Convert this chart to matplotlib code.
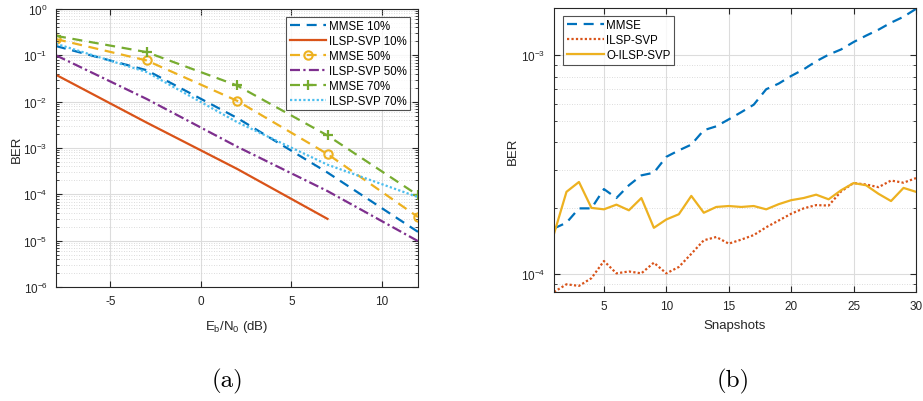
import numpy as np
import matplotlib
matplotlib.use("Agg")
import matplotlib.pyplot as plt
from matplotlib.ticker import LogLocator, NullFormatter

plt.rcParams['font.family'] = ['Liberation Sans', 'DejaVu Sans']
plt.rcParams['mathtext.fontset'] = 'custom'
plt.rcParams['mathtext.rm'] = 'Liberation Sans'
plt.rcParams['mathtext.it'] = 'Liberation Sans:italic'
plt.rcParams['mathtext.bf'] = 'Liberation Sans:bold'
plt.rcParams['axes.unicode_minus'] = False

# ---------------- data (a) ----------------
snr = [-8, -3, 2, 7, 12]
snr_red = [-8, -3, 2, 7]
mmse10 = [10**-0.80, 10**-1.32, 10**-2.35, 10**-3.53, 10**-4.81]
ilsp10 = [10**-1.42, 10**-2.45, 10**-3.45, 10**-4.53]
mmse50 = [10**-0.65, 10**-1.11, 10**-1.98, 10**-3.13, 10**-4.49]
ilsp50 = [10**-1.00, 10**-1.94, 10**-2.97, 10**-3.93, 10**-5.01]
mmse70 = [10**-0.58, 10**-0.93, 10**-1.65, 10**-2.73, 10**-4.02]
ilsp70 = [10**-0.75, 10**-1.36, 10**-2.44, 10**-3.36, 10**-4.06]

# ---------------- data (b) ----------------
snaps = list(range(1, 31))
mmse_b = [1.62e-4, 1.72e-4, 2.0e-4, 2.0e-4, 2.45e-4, 2.23e-4, 2.55e-4, 2.83e-4, 2.91e-4, 3.44e-4,
          3.68e-4, 3.91e-4, 4.55e-4, 4.74e-4, 5.1e-4, 5.5e-4, 5.95e-4, 7.0e-4, 7.43e-4, 8.05e-4,
          8.63e-4, 9.39e-4, 1.007e-3, 1.064e-3, 1.15e-3, 1.23e-3, 1.31e-3, 1.41e-3, 1.50e-3, 1.63e-3]
ilsp_b = [8.3e-5, 9.0e-5, 8.85e-5, 9.6e-5, 1.15e-4, 1.01e-4, 1.03e-4, 1.01e-4, 1.13e-4, 1.01e-4,
          1.08e-4, 1.24e-4, 1.43e-4, 1.48e-4, 1.38e-4, 1.44e-4, 1.51e-4, 1.64e-4, 1.76e-4, 1.89e-4,
          2.0e-4, 2.07e-4, 2.06e-4, 2.39e-4, 2.61e-4, 2.57e-4, 2.50e-4, 2.68e-4, 2.62e-4, 2.75e-4]
oilsp_b = [1.53e-4, 2.38e-4, 2.64e-4, 2.01e-4, 1.98e-4, 2.08e-4, 1.96e-4, 2.23e-4, 1.63e-4, 1.78e-4,
           1.88e-4, 2.28e-4, 1.91e-4, 2.03e-4, 2.05e-4, 2.03e-4, 2.05e-4, 1.98e-4, 2.09e-4, 2.18e-4,
           2.23e-4, 2.31e-4, 2.20e-4, 2.42e-4, 2.61e-4, 2.55e-4, 2.33e-4, 2.16e-4, 2.48e-4, 2.38e-4]

C_BLUE = '#0072BD'
C_RED = '#D95319'
C_YEL = '#EDB120'
C_PUR = '#7E2F8E'
C_GRN = '#77AC30'
C_LBL = '#4DBEEE'

fig = plt.figure(figsize=(9.23, 4.02), dpi=100)
ax1 = fig.add_axes([56/923, 1-288/402, 362/923, 278/402])
ax2 = fig.add_axes([554/923, 1-293/402, 362/923, 284/402])

lw = 1.6
dash = (4.5, 3.0)
ax1.plot(snr, mmse10, color=C_BLUE, lw=lw, dashes=dash, label='MMSE 10%')
ax1.plot(snr_red, ilsp10, color=C_RED, lw=lw, ls='-', label='ILSP-SVP 10%')
ax1.plot(snr, mmse50, color=C_YEL, lw=lw, dashes=dash, marker='o', ms=6, mfc='none', mew=1.5, label='MMSE 50%')
ax1.plot(snr, ilsp50, color=C_PUR, lw=lw, dashes=(4.5, 1.5, 1.0, 1.5), label='ILSP-SVP 50%')
ax1.plot(snr, mmse70, color=C_GRN, lw=lw, dashes=dash, marker='+', ms=7, mew=1.6, label='MMSE 70%')
ax1.plot(snr, ilsp70, color=C_LBL, lw=lw, dashes=(1.0, 1.0), label='ILSP-SVP 70%')

ax1.set_yscale('log')
ax1.set_xlim(-8, 12)
ax1.set_ylim(1e-6, 1)
ax1.set_xticks([-5, 0, 5, 10])
ax1.yaxis.set_major_locator(LogLocator(base=10, numticks=20))
ax1.yaxis.set_minor_locator(LogLocator(base=10, subs=np.arange(2, 10), numticks=20))
ax1.yaxis.set_minor_formatter(NullFormatter())
ax1.set_xlabel(r'E$_{\mathrm{b}}$/N$_{\mathrm{0}}$ (dB)', fontsize=9.5, color='#262626', labelpad=8)
ax1.set_ylabel('BER', fontsize=9.5, color='#262626', labelpad=0)

ax2.plot(snaps, mmse_b, color=C_BLUE, lw=lw, dashes=dash, label='MMSE')
ax2.plot(snaps, ilsp_b, color=C_RED, lw=lw, dashes=(1.0, 1.0), label='ILSP-SVP')
ax2.plot(snaps, oilsp_b, color=C_YEL, lw=lw, ls='-', label='O-ILSP-SVP')
ax2.set_yscale('log')
ax2.set_xlim(1, 30)
ax2.set_ylim(8.3e-5, 1.645e-3)
ax2.set_xticks([5, 10, 15, 20, 25, 30])
ax2.yaxis.set_major_locator(LogLocator(base=10, numticks=20))
ax2.yaxis.set_minor_locator(LogLocator(base=10, subs=np.arange(2, 10), numticks=20))
ax2.yaxis.set_minor_formatter(NullFormatter())
ax2.set_xlabel('Snapshots', fontsize=9.5, color='#262626', labelpad=5)
ax2.set_ylabel('BER', fontsize=9.5, color='#262626', labelpad=2)

for ax in (ax1, ax2):
    ax.grid(True, which='major', color='#dcdcdc', lw=0.8, ls='-')
    ax.grid(True, which='minor', axis='y', color='#d0d0d0', lw=0.6, ls=(0, (1, 2)))
    ax.set_axisbelow(True)
    ax.tick_params(which='both', direction='in', top=True, right=True, colors='#262626',
                   labelsize=8.5, pad=6)
    ax.tick_params(which='major', length=4)
    ax.tick_params(which='minor', length=2)
    for s in ax.spines.values():
        s.set_color('#262626')
        s.set_linewidth(0.8)

leg1 = ax1.legend(loc='upper right', bbox_to_anchor=(0.978, 0.972), fontsize=8.3, frameon=True,
                  fancybox=False, edgecolor='#262626', handlelength=3.2, handletextpad=0.2,
                  labelspacing=0.25, borderpad=0.3, borderaxespad=0.0)
leg1.get_frame().set_linewidth(0.8)
leg2 = ax2.legend(loc='upper left', bbox_to_anchor=(0.026, 0.972), fontsize=8.3, frameon=True,
                  fancybox=False, edgecolor='#262626', handlelength=3.2, handletextpad=0.2,
                  labelspacing=0.25, borderpad=0.3, borderaxespad=0.0)
leg2.get_frame().set_linewidth(0.8)

fig.text(227/923, 1-381/402, '(a)', fontfamily='cmr10', fontsize=18, ha='center', va='center')
fig.text(733/923, 1-381/402, '(b)', fontfamily='cmr10', fontsize=18, ha='center', va='center')

fig.savefig('out.png', dpi=100)
